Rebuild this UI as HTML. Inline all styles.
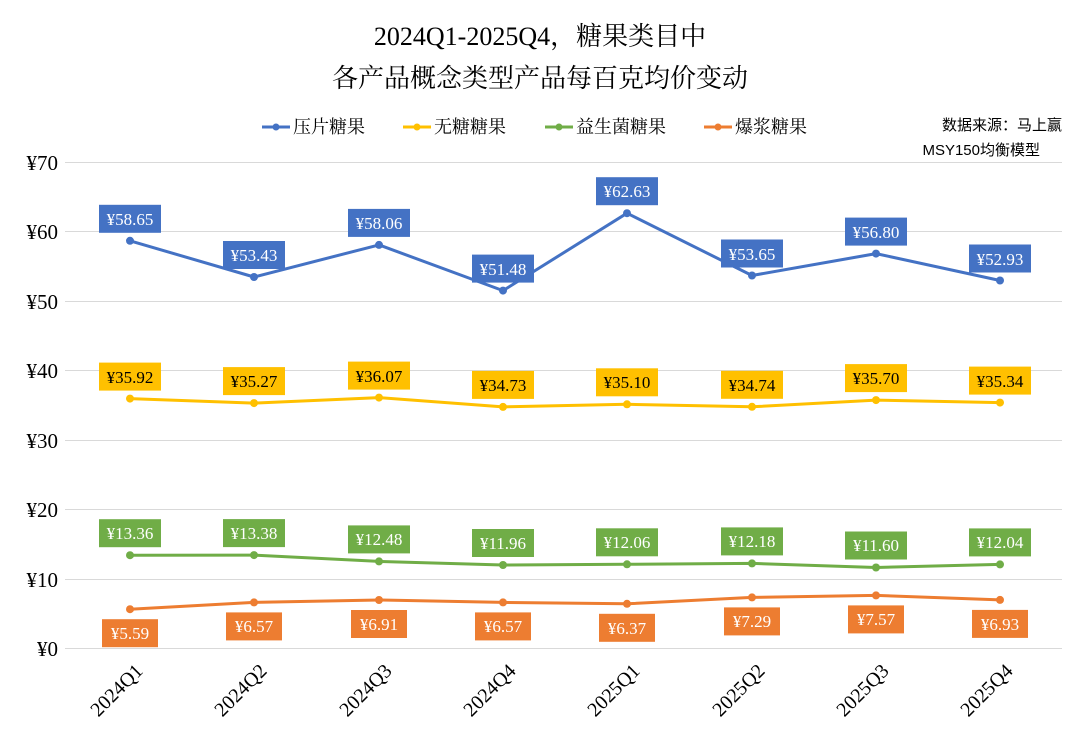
<!DOCTYPE html>
<html><head><meta charset="utf-8"><style>
body{margin:0;background:#fff}
svg{display:block}
.t{font-family:"Liberation Serif","Noto Serif CJK SC",serif}
.s{font-family:"Liberation Sans","Noto Sans CJK SC",sans-serif}
</style></head><body>
<svg width="1080" height="735" viewBox="0 0 1080 735" xmlns="http://www.w3.org/2000/svg">
<rect width="1080" height="735" fill="#fff"/>
<text x="540" y="45" text-anchor="middle" class="t" font-size="26" fill="#000">2024Q1-2025Q4，糖果类目中</text>
<text x="540" y="87" text-anchor="middle" class="t" font-size="26" fill="#000">各产品概念类型产品每百克均价变动</text>
<g class="t" font-size="18" fill="#000">
<line x1="262" y1="127" x2="290" y2="127" stroke="#4472C4" stroke-width="3"/><circle cx="276" cy="127" r="3.5" fill="#4472C4"/><text x="293" y="133">压片糖果</text>
<line x1="403" y1="127" x2="431" y2="127" stroke="#FFC000" stroke-width="3"/><circle cx="417" cy="127" r="3.5" fill="#FFC000"/><text x="434" y="133">无糖糖果</text>
<line x1="545" y1="127" x2="573" y2="127" stroke="#70AD47" stroke-width="3"/><circle cx="559" cy="127" r="3.5" fill="#70AD47"/><text x="576" y="133">益生菌糖果</text>
<line x1="704" y1="127" x2="732" y2="127" stroke="#ED7D31" stroke-width="3"/><circle cx="718" cy="127" r="3.5" fill="#ED7D31"/><text x="735" y="133">爆浆糖果</text>
</g>
<text x="1062" y="130" text-anchor="end" class="s" font-size="15" fill="#000">数据来源：马上赢</text>
<text x="1040" y="155" text-anchor="end" class="s" font-size="15" fill="#000">MSY150均衡模型</text>
<g stroke="#d9d9d9" stroke-width="1">
<line x1="65" y1="162.5" x2="1062" y2="162.5"/><line x1="65" y1="231.5" x2="1062" y2="231.5"/><line x1="65" y1="301.5" x2="1062" y2="301.5"/><line x1="65" y1="370.5" x2="1062" y2="370.5"/><line x1="65" y1="440.5" x2="1062" y2="440.5"/><line x1="65" y1="509.5" x2="1062" y2="509.5"/><line x1="65" y1="579.5" x2="1062" y2="579.5"/><line x1="65" y1="648.5" x2="1062" y2="648.5"/>
</g>
<g class="t" font-size="21" fill="#000" text-anchor="end">
<text x="58" y="170">¥70</text><text x="58" y="239">¥60</text><text x="58" y="309">¥50</text><text x="58" y="378">¥40</text><text x="58" y="448">¥30</text><text x="58" y="517">¥20</text><text x="58" y="587">¥10</text><text x="58" y="656">¥0</text>
</g>
<g class="t" font-size="20" fill="#000" text-anchor="end">
<text transform="translate(144,672) rotate(-45)">2024Q1</text>
<text transform="translate(268,672) rotate(-45)">2024Q2</text>
<text transform="translate(393,672) rotate(-45)">2024Q3</text>
<text transform="translate(517,672) rotate(-45)">2024Q4</text>
<text transform="translate(641,672) rotate(-45)">2025Q1</text>
<text transform="translate(766,672) rotate(-45)">2025Q2</text>
<text transform="translate(890,672) rotate(-45)">2025Q3</text>
<text transform="translate(1014,672) rotate(-45)">2025Q4</text>
</g>
<g fill="none" stroke-width="3" stroke-linejoin="round">
<polyline stroke="#4472C4" points="130,240.8 254,277 379,244.9 503,290.6 627,213.2 752,275.5 876,253.6 1000,280.5"/>
<polyline stroke="#FFC000" points="130,398.6 254,403.1 379,397.6 503,406.9 627,404.3 752,406.8 876,400.1 1000,402.6"/>
<polyline stroke="#70AD47" points="130,555.2 254,555.1 379,561.4 503,565 627,564.3 752,563.4 876,567.5 1000,564.4"/>
<polyline stroke="#ED7D31" points="130,609.2 254,602.4 379,600 503,602.4 627,603.8 752,597.4 876,595.4 1000,599.9"/>
</g>
<g fill="#4472C4"><circle cx="130" cy="240.8" r="4"/><circle cx="254" cy="277" r="4"/><circle cx="379" cy="244.9" r="4"/><circle cx="503" cy="290.6" r="4"/><circle cx="627" cy="213.2" r="4"/><circle cx="752" cy="275.5" r="4"/><circle cx="876" cy="253.6" r="4"/><circle cx="1000" cy="280.5" r="4"/></g>
<g fill="#FFC000"><circle cx="130" cy="398.6" r="4"/><circle cx="254" cy="403.1" r="4"/><circle cx="379" cy="397.6" r="4"/><circle cx="503" cy="406.9" r="4"/><circle cx="627" cy="404.3" r="4"/><circle cx="752" cy="406.8" r="4"/><circle cx="876" cy="400.1" r="4"/><circle cx="1000" cy="402.6" r="4"/></g>
<g fill="#70AD47"><circle cx="130" cy="555.2" r="4"/><circle cx="254" cy="555.1" r="4"/><circle cx="379" cy="561.4" r="4"/><circle cx="503" cy="565" r="4"/><circle cx="627" cy="564.3" r="4"/><circle cx="752" cy="563.4" r="4"/><circle cx="876" cy="567.5" r="4"/><circle cx="1000" cy="564.4" r="4"/></g>
<g fill="#ED7D31"><circle cx="130" cy="609.2" r="4"/><circle cx="254" cy="602.4" r="4"/><circle cx="379" cy="600" r="4"/><circle cx="503" cy="602.4" r="4"/><circle cx="627" cy="603.8" r="4"/><circle cx="752" cy="597.4" r="4"/><circle cx="876" cy="595.4" r="4"/><circle cx="1000" cy="599.9" r="4"/></g>
<g class="t" font-size="17" text-anchor="middle">
<g fill="#4472C4"><rect x="99" y="204.8" width="62" height="28"/><rect x="223" y="241" width="62" height="28"/><rect x="348" y="208.9" width="62" height="28"/><rect x="472" y="254.6" width="62" height="28"/><rect x="596" y="177.2" width="62" height="28"/><rect x="721" y="239.5" width="62" height="28"/><rect x="845" y="217.6" width="62" height="28"/><rect x="969" y="244.5" width="62" height="28"/></g>
<g fill="#fff"><text x="130" y="225">¥58.65</text><text x="254" y="261">¥53.43</text><text x="379" y="229">¥58.06</text><text x="503" y="275">¥51.48</text><text x="627" y="197">¥62.63</text><text x="752" y="260">¥53.65</text><text x="876" y="238">¥56.80</text><text x="1000" y="265">¥52.93</text></g>
<g fill="#FFC000"><rect x="99" y="362.6" width="62" height="28"/><rect x="223" y="367.1" width="62" height="28"/><rect x="348" y="361.6" width="62" height="28"/><rect x="472" y="370.9" width="62" height="28"/><rect x="596" y="368.3" width="62" height="28"/><rect x="721" y="370.8" width="62" height="28"/><rect x="845" y="364.1" width="62" height="28"/><rect x="969" y="366.6" width="62" height="28"/></g>
<g fill="#000"><text x="130" y="383">¥35.92</text><text x="254" y="387">¥35.27</text><text x="379" y="382">¥36.07</text><text x="503" y="391">¥34.73</text><text x="627" y="388">¥35.10</text><text x="752" y="391">¥34.74</text><text x="876" y="384">¥35.70</text><text x="1000" y="387">¥35.34</text></g>
<g fill="#70AD47"><rect x="99" y="519.2" width="62" height="28"/><rect x="223" y="519.1" width="62" height="28"/><rect x="348" y="525.4" width="62" height="28"/><rect x="472" y="529" width="62" height="28"/><rect x="596" y="528.3" width="62" height="28"/><rect x="721" y="527.4" width="62" height="28"/><rect x="845" y="531.5" width="62" height="28"/><rect x="969" y="528.4" width="62" height="28"/></g>
<g fill="#fff"><text x="130" y="539">¥13.36</text><text x="254" y="539">¥13.38</text><text x="379" y="545">¥12.48</text><text x="503" y="549">¥11.96</text><text x="627" y="548">¥12.06</text><text x="752" y="547">¥12.18</text><text x="876" y="551">¥11.60</text><text x="1000" y="548">¥12.04</text></g>
<g fill="#ED7D31"><rect x="102" y="619.2" width="56" height="28"/><rect x="226" y="612.4" width="56" height="28"/><rect x="351" y="610" width="56" height="28"/><rect x="475" y="612.4" width="56" height="28"/><rect x="599" y="613.8" width="56" height="28"/><rect x="724" y="607.4" width="56" height="28"/><rect x="848" y="605.4" width="56" height="28"/><rect x="972" y="609.9" width="56" height="28"/></g>
<g fill="#fff"><text x="130" y="639">¥5.59</text><text x="254" y="632">¥6.57</text><text x="379" y="630">¥6.91</text><text x="503" y="632">¥6.57</text><text x="627" y="634">¥6.37</text><text x="752" y="627">¥7.29</text><text x="876" y="625">¥7.57</text><text x="1000" y="630">¥6.93</text></g>
</g>
</svg>
</body></html>
